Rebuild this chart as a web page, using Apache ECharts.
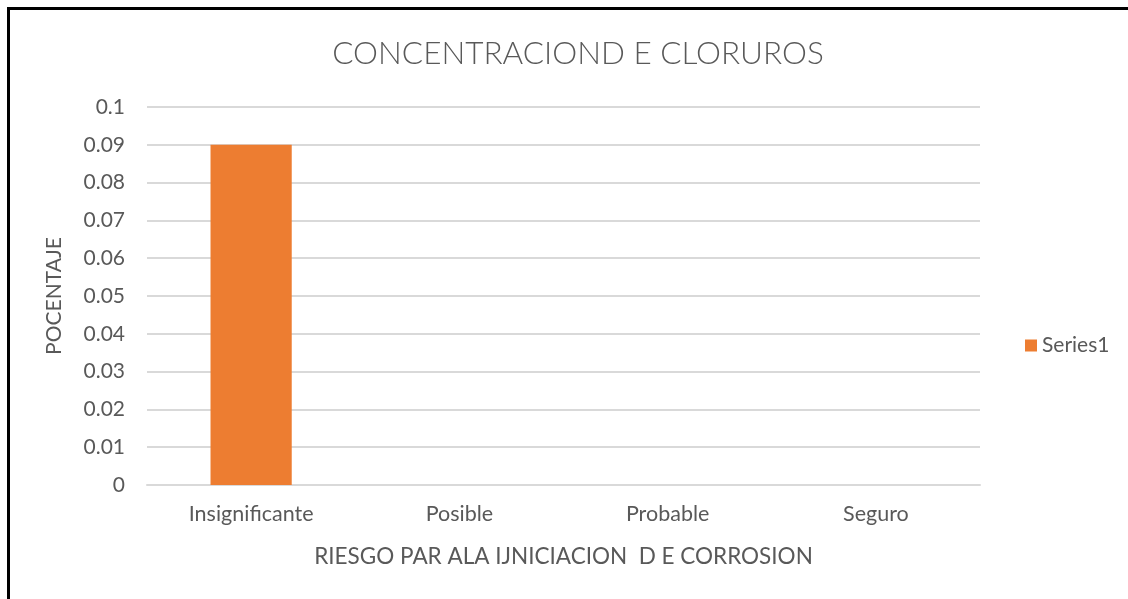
<!DOCTYPE html>
<html>
<head>
<meta charset="utf-8">
<script src="https://cdn.jsdelivr.net/npm/echarts@6/dist/echarts.min.js"></script>
<style>
  html, body { margin: 0; padding: 0; background: #fff; }
  #chart { width: 1128px; height: 599px; }
</style>
</head>
<body>
<div id="chart"></div>
<script>
// Chloride concentration by corrosion-initiation risk level
const categories = ['Insignificante', 'Posible', 'Probable', 'Seguro'];
const series1 = [0.09, null, null, null];
const yTicks = [0, 0.01, 0.02, 0.03, 0.04, 0.05, 0.06, 0.07, 0.08, 0.09, 0.1];

const FONT = 'Lato, "Open Sans", sans-serif';
const TEXT = '#595959';

const chart = echarts.init(document.getElementById('chart'), null, { renderer: 'canvas' });
chart.setOption({
  backgroundColor: '#ffffff',
  animation: false,
  title: {
    text: 'CONCENTRACIOND E CLORUROS',
    left: 573,
    top: 33,
    textAlign: 'center',
    textStyle: { fontFamily: FONT, fontWeight: 300, fontSize: 31.5, color: TEXT }
  },
  legend: {
    data: ['Series1'],
    left: 1020,
    top: 330,
    itemWidth: 12,
    itemHeight: 12,
    itemGap: 6,
    icon: 'rect',
    textStyle: { fontFamily: FONT, fontSize: 21, color: TEXT, padding: [0, 0, 0, 0] }
  },
  grid: { left: 147, right: 148, top: 107, bottom: 114, containLabel: false },
  xAxis: {
    type: 'category',
    data: categories,
    name: 'RIESGO PAR ALA IJNICIACION  D E CORROSION',
    nameLocation: 'middle',
    nameGap: 60,
    nameTextStyle: { fontFamily: FONT, fontSize: 22.5, color: TEXT },
    axisLine: { show: true, lineStyle: { color: '#d9d9d9', width: 2 } },
    axisTick: { show: false },
    axisLabel: { fontFamily: FONT, fontSize: 21.5, color: TEXT, margin: 18 }
  },
  yAxis: {
    type: 'value',
    min: yTicks[0],
    max: yTicks[yTicks.length - 1],
    interval: 0.01,
    name: 'POCENTAJE',
    nameLocation: 'middle',
    nameGap: 82,
    nameTextStyle: { fontFamily: FONT, fontSize: 21, color: TEXT },
    axisLine: { show: false },
    axisTick: { show: false },
    axisLabel: {
      fontFamily: FONT, fontSize: 21, color: TEXT, margin: 22,
      formatter: v => String(parseFloat(v.toFixed(2)))
    },
    splitLine: { lineStyle: { color: '#d9d9d9', width: 2 } }
  },
  series: [{
    name: 'Series1',
    type: 'bar',
    data: series1,
    barWidth: '39%',
    itemStyle: { color: '#ED7D31' }
  }],
  graphic: [
    { type: 'rect', shape: { x: 7, y: 7, width: 1121, height: 3 }, style: { fill: '#000' }, silent: true },
    { type: 'rect', shape: { x: 7, y: 7, width: 3, height: 592 }, style: { fill: '#000' }, silent: true }
  ]
});
</script>
</body>
</html>
